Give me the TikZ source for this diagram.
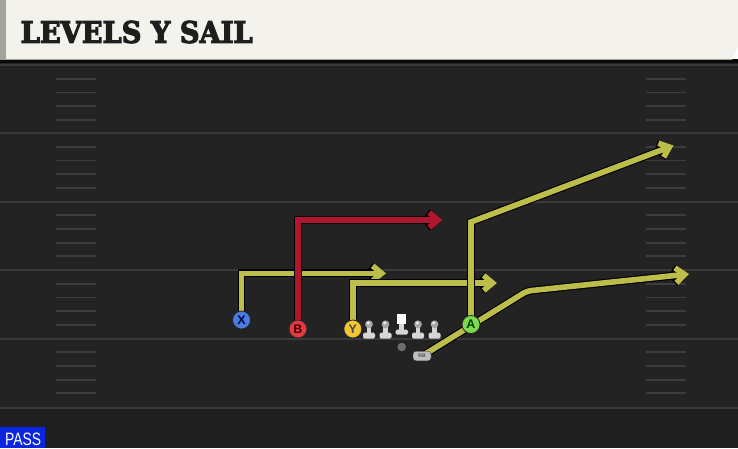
\documentclass[tikz,border=0pt]{standalone}
\usepackage{fontspec}
\setmainfont{Liberation Sans}
\newfontfamily\titlefont{DejaVu Serif}[BoldFeatures={FakeBold=4}]
\usetikzlibrary{arrows.meta}
\definecolor{fieldbg}{HTML}{232323}
\definecolor{fielddark}{HTML}{1F1F1F}
\definecolor{yardcol}{HTML}{3A3A3A}
\definecolor{hashcol}{HTML}{3C3C3C}
\definecolor{cream}{HTML}{F4F2EC}
\definecolor{creamedge}{HTML}{A4A49E}
\definecolor{titleink}{HTML}{1E1E1E}
\definecolor{passblue}{HTML}{0A24E0}
\definecolor{ylw}{HTML}{BDBD4B}
\definecolor{redroute}{HTML}{B0172F}
\definecolor{xblue}{HTML}{4A7BE0}
\definecolor{bred}{HTML}{E33A42}
\definecolor{yyel}{HTML}{F3C534}
\definecolor{agreen}{HTML}{7DD94F}
\definecolor{olhead}{HTML}{A5A5A5}
\definecolor{olbody}{HTML}{D6D6D6}
\definecolor{ballgrey}{HTML}{6E6E6E}
\definecolor{rbgrey}{HTML}{BEBEBE}
\pgfdeclarelayer{fieldlayer}
\pgfdeclarelayer{routelayer}
\pgfsetlayers{fieldlayer,routelayer,main}
\tikzset{
  player/.style={circle, draw=black!85, line width=0.8pt, minimum size=18pt, inner sep=0pt,
    font=\bfseries\fontsize{12.5}{12.5}\selectfont},
  route/.style={line width=5.6pt, line join=miter,
    preaction={draw=black, line width=7.8pt},
    -{Straight Barb[length=9pt,width=15pt]}},
  yard/.style={draw=yardcol, line width=2pt},
  hashmark/.style={draw=hashcol, line width=1.8pt},
}
\begin{document}
\begin{tikzpicture}[x=1pt,y=-1pt]
\useasboundingbox (0,0) rectangle (738,448);
\begin{pgfonlayer}{fieldlayer}
  % field
  \fill[fieldbg] (0,59) rectangle (738,448);
  \fill[fielddark] (0,408) rectangle (738,448);
  \fill[black!75!fieldbg] (0,59) rectangle (738,62.5);
  \foreach \yy in {65,133,201.5,270,338.5,407.5}
    \draw[yard] (0,\yy) -- (738,\yy);
  \foreach \yy in {65,133,201.5,270,338.5}
    \foreach \k in {1,...,4} {
      \draw[hashmark] (56,{\yy+13.7*\k}) -- (96,{\yy+13.7*\k});
      \draw[hashmark] (646,{\yy+13.7*\k}) -- (686,{\yy+13.7*\k});
    }
  % title bar
  \fill[cream] (5,0) -- (738,0) -- (738,47) -- (732,59.5) -- (5,59.5) -- cycle;
  \fill[creamedge] (0,0) rectangle (5.5,59.5);
\end{pgfonlayer}

\node[anchor=base west, inner sep=0pt, text=titleink] (title) at (20.5,42.8)
  {\resizebox{232pt}{22pt}{\titlefont\bfseries LEVELS Y SAIL}};

% PASS tag
\node[fill=passblue, anchor=south west, minimum width=45pt, minimum height=20.5pt, inner sep=0pt] (passbox) at (0,448) {};
\node[anchor=base west, inner sep=0pt, text=white] (pass) at (5,445.5)
  {\resizebox{36pt}{12.5pt}{PASS}};

% offensive line
\foreach \xx in {369,385.5,418,434.5} {
  \fill[olbody] (\xx-2.4,324) rectangle (\xx+2.4,334);
  \fill[olbody, rounded corners=1.5pt] (\xx-6,332.5) rectangle (\xx+6,338.5);
  \fill[olhead] (\xx,324.3) circle (3.9);
  \fill[white!85!olhead] (\xx-0.8,323) circle (1.6);
}
\fill[olbody] (399,323) rectangle (403.8,331);
\fill[olbody, rounded corners=1.5pt] (395.5,329.5) rectangle (408,334.5);
\node[fill=white, minimum size=9.5pt, inner sep=0pt] (C) at (401.3,318.8) {};

\node[circle, fill=ballgrey, minimum size=8.6pt, inner sep=0pt] (ball) at (401.7,347) {};

% skill players
\node[player, fill=xblue, text=black!75!blue] (X) at (241.5,320) {X};
\node[player, fill=bred, text=black!70!red] (B) at (298,329) {B};
\node[player, fill=yyel, text=black!80!yellow] (Y) at (352.8,329) {Y};
\node[player, fill=agreen, text=black!75!green] (A) at (471,324.5) {A};
\node[draw=black!75, fill=rbgrey, rounded corners=3pt, minimum width=18pt, minimum height=9.5pt,
  inner sep=0pt, text=black!70, font=\bfseries\fontsize{5}{5}\selectfont] (RB) at (422,356) {RB};

% route points
\coordinate (xc) at (241.5,273.3);
\coordinate (xt) at (386,273.3);
\coordinate (bc) at (298,220);
\coordinate (bt) at (442.5,220);
\coordinate (yc) at (352.8,283);
\coordinate (yt) at (497,283);
\coordinate (ac) at (471,222);
\coordinate (at2) at (673.5,145.5);
\coordinate (rc) at (527,291);
\coordinate (rt) at (689,274);

\begin{pgfonlayer}{routelayer}
  \draw[route, draw=ylw] (X.center) -- (xc) -- (xt);
  \draw[route, draw=ylw] (Y.center) -- (yc) -- (yt);
  \draw[route, draw=redroute] (B.center) -- (bc) -- (bt);
  \draw[route, draw=ylw] (A.center) -- (ac) -- (at2);
  \draw[route, draw=ylw, rounded corners=4pt] (RB.center) -- (rc) -- (rt);
\end{pgfonlayer}
\end{tikzpicture}
\end{document}
